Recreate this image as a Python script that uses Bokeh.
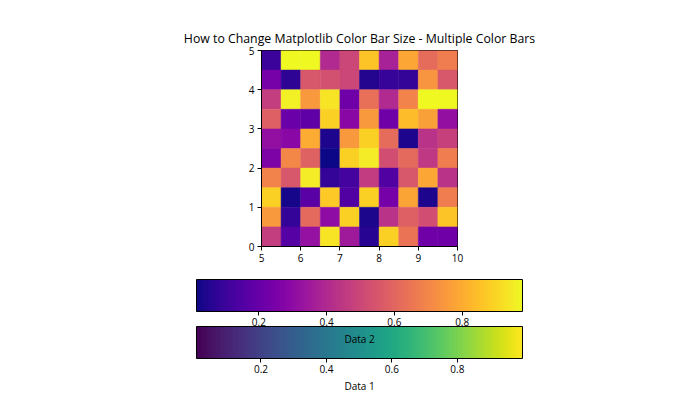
from bokeh.plotting import figure
from bokeh.models import (ColumnDataSource, LinearColorMapper, ColorBar, FixedTicker,
                          Range1d, Label)
from bokeh.layouts import column
from bokeh.palettes import Plasma256, Viridis256
from bokeh.transform import transform
from bokeh.embed import file_html
from bokeh.resources import INLINE

# ---- data (rows listed from top y=4.5 to bottom y=0) ----
x_ticks = [5, 6, 7, 8, 9, 10]
y_ticks = [0, 1, 2, 3, 4, 5]
cbar_ticks = [0.2, 0.4, 0.6, 0.8]
data2_rows = [
    [0.10, 0.978, 0.975, 0.40, 0.50, 0.86, 0.37, 0.79, 0.62, 0.67],
    [0.24, 0.07, 0.55, 0.53, 0.50, 0.05, 0.09, 0.08, 0.74, 0.55],
    [0.47, 0.96, 0.75, 0.93, 0.22, 0.63, 0.40, 0.69, 0.975, 0.978],
    [0.58, 0.21, 0.18, 0.885, 0.29, 0.75, 0.22, 0.84, 0.77, 0.31],
    [0.31, 0.29, 0.80, 0.04, 0.75, 0.885, 0.62, 0.04, 0.43, 0.48],
    [0.26, 0.70, 0.59, 0.016, 0.885, 0.95, 0.52, 0.61, 0.45, 0.67],
    [0.69, 0.55, 0.95, 0.08, 0.12, 0.46, 0.15, 0.55, 0.79, 0.43],
    [0.885, 0.03, 0.17, 0.87, 0.15, 0.885, 0.24, 0.78, 0.04, 0.67],
    [0.75, 0.08, 0.61, 0.30, 0.885, 0.035, 0.43, 0.58, 0.52, 0.86],
    [0.47, 0.16, 0.32, 0.93, 0.35, 0.06, 0.885, 0.64, 0.22, 0.22],
]
data1_min = 0.003
data1_max = 0.999
title_text = "How to Change Matplotlib Color Bar Size - Multiple Color Bars"
label_data1 = "Data 1"
label_data2 = "Data 2"

FONT = "Open Sans"

# build cell table
xs, ys, vs = [], [], []
n_rows = len(data2_rows)
for r, row in enumerate(data2_rows):
    for c, v in enumerate(row):
        xs.append(5 + 0.5 * c + 0.25)
        ys.append((n_rows - 1 - r) * 0.5 + 0.25)
        vs.append(v)
src = ColumnDataSource(dict(x=xs, y=ys, v=vs))

mapper2 = LinearColorMapper(palette=Plasma256, low=min(vs), high=max(vs))
mapper1 = LinearColorMapper(palette=Viridis256, low=data1_min, high=data1_max)

# ---- heatmap figure ----
p = figure(width=692, height=268, output_backend="svg", toolbar_location=None,
           x_range=Range1d(5, 10), y_range=Range1d(0, 5),
           min_border_left=261, min_border_right=235,
           min_border_top=50, min_border_bottom=22,
           title=title_text)
p.title.text_font = FONT
p.title.text_font_size = "12.3px"
p.title.text_font_style = "normal"
p.title.align = "center"
p.title.text_color = "black"
p.title.standoff = 7

p.rect(x="x", y="y", width=0.5, height=0.5, source=src,
       fill_color=transform("v", mapper2), line_color=transform("v", mapper2),
       line_width=0.5)

p.grid.visible = False
p.outline_line_color = "black"
p.outline_line_width = 1
for ax, ticks in ((p.xaxis, x_ticks), (p.yaxis, y_ticks)):
    ax.ticker = FixedTicker(ticks=ticks)
    ax.minor_tick_line_color = None
    ax.major_tick_in = 0
    ax.major_tick_out = 4
    ax.major_tick_line_color = "black"
    ax.axis_line_color = "black"
    ax.major_label_text_font = FONT
    ax.major_label_text_font_size = "10px"
    ax.major_label_text_color = "black"
    ax.major_label_standoff = 3

# ---- colour bar figure (frame aligned with the heatmap frame) ----
q = figure(width=692, height=144, output_backend="svg", toolbar_location=None,
           x_range=Range1d(0, 1), y_range=Range1d(0, 1),
           x_axis_location=None, y_axis_location=None,
           min_border_left=261, min_border_right=235,
           min_border_top=0, min_border_bottom=0)
q.grid.visible = False
q.outline_line_color = None

def make_cbar(mapper, loc):
    return ColorBar(color_mapper=mapper, orientation="horizontal", location=loc,
                    width=326, height=32, padding=0,
                    ticker=FixedTicker(ticks=cbar_ticks),
                    bar_line_color="black", bar_line_width=1,
                    major_tick_in=0, major_tick_out=4,
                    major_tick_line_color="black",
                    minor_tick_line_color=None,
                    major_label_text_font=FONT,
                    major_label_text_font_size="10px",
                    major_label_text_color="black",
                    label_standoff=2,
                    background_fill_color=None,
                    border_line_color=None)

cb2 = make_cbar(mapper2, (-65, 84))
cb1 = make_cbar(mapper1, (-65, 37))
q.add_layout(cb2, "center")
q.add_layout(cb1, "center")

q.add_layout(Label(x=0.5, y=0.507, text=label_data2,
                   text_align="center", text_baseline="middle", text_font=FONT,
                   text_font_size="10px", text_color="black"))
q.add_layout(Label(x=0.5, y=0.181, text=label_data1,
                   text_align="center", text_baseline="middle", text_font=FONT,
                   text_font_size="10px", text_color="black"))

layout = column(p, q, spacing=0)
open("out.html", "w").write(file_html(layout, INLINE))
